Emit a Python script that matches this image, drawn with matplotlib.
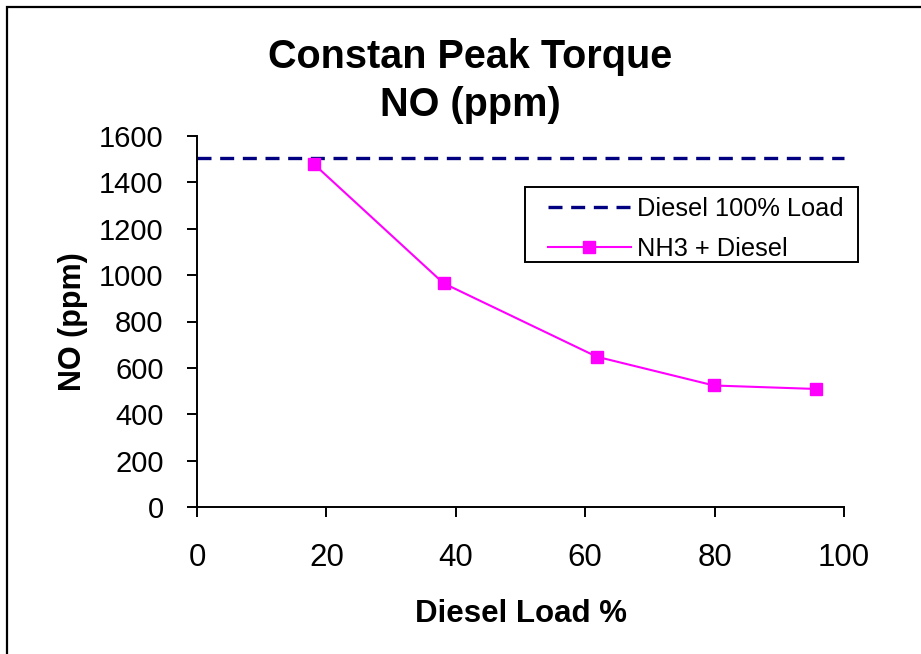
import matplotlib
matplotlib.use("Agg")
import matplotlib.pyplot as plt
from matplotlib.patches import Rectangle

plt.rcParams['font.family'] = ['Liberation Sans', 'DejaVu Sans']

title_line1 = "Constan Peak Torque"
title_line2 = "NO (ppm)"
x_label = "Diesel Load %"
y_label = "NO (ppm)"
diesel_label = "Diesel 100% Load"
nh3_label = "NH3 + Diesel"

diesel_load = [18.1, 38.1, 61.8, 79.9, 95.7]
nh3_no = [1478, 965, 648, 524, 509]
diesel_x = [0, 100]
diesel_no = [1505, 1505]

x_ticks = [0, 20, 40, 60, 80, 100]
y_ticks = [0, 200, 400, 600, 800, 1000, 1200, 1400, 1600]

W, H = 921, 654
fig = plt.figure(figsize=(9.21, 6.54), dpi=100)
ax = fig.add_axes([197/W, 1-507/H, (844-197)/W, (507-136)/H])

ax.plot(diesel_x, diesel_no, color='#000080', lw=2.4, linestyle=(0, (4.2, 2.6)),
        label=diesel_label, clip_on=False)
ax.plot(diesel_load, nh3_no, color='#FF00FF', lw=1.5, marker='s', markersize=8.6,
        label=nh3_label, clip_on=False)

ax.set_xlim(0, 100)
ax.set_ylim(0, 1600)
ax.set_xticks(x_ticks)
ax.set_yticks(y_ticks)
ax.tick_params(axis='both', direction='out', length=7, width=1.4)
ax.tick_params(axis='y', labelsize=21, pad=17)
ax.tick_params(axis='x', labelsize=22.5, pad=19)
for s in ['top', 'right']:
    ax.spines[s].set_visible(False)
for s in ['left', 'bottom']:
    ax.spines[s].set_linewidth(1.4)

ax.set_xlabel(x_label, fontsize=22.5, fontweight='bold', labelpad=19)
ax.set_ylabel(y_label, fontsize=22, fontweight='bold', labelpad=8)

fig.text(470/W, 1-57/H, title_line1, ha='center', va='center',
         fontsize=28.5, fontweight='bold')
fig.text(470/W, 1-105/H, title_line2, ha='center', va='center',
         fontsize=28.5, fontweight='bold')

leg = ax.legend(loc='upper left', bbox_to_anchor=(545/W, 1-194/H),
                bbox_transform=fig.transFigure, fontsize=18.3, frameon=False,
                handlelength=3.3, borderaxespad=0, borderpad=0.1,
                labelspacing=0.66, handletextpad=0.2)

fig.patches.append(Rectangle((525/W, 1-262/H), (858-525)/W, (262-187)/H,
                             transform=fig.transFigure, fill=False,
                             edgecolor='black', lw=1.4))
fig.patches.append(Rectangle((7/W, -0.1), 1.2, 1-7/H+0.1, transform=fig.transFigure,
                             fill=False, edgecolor='black', lw=1.6))

fig.savefig("out.png", dpi=100)
